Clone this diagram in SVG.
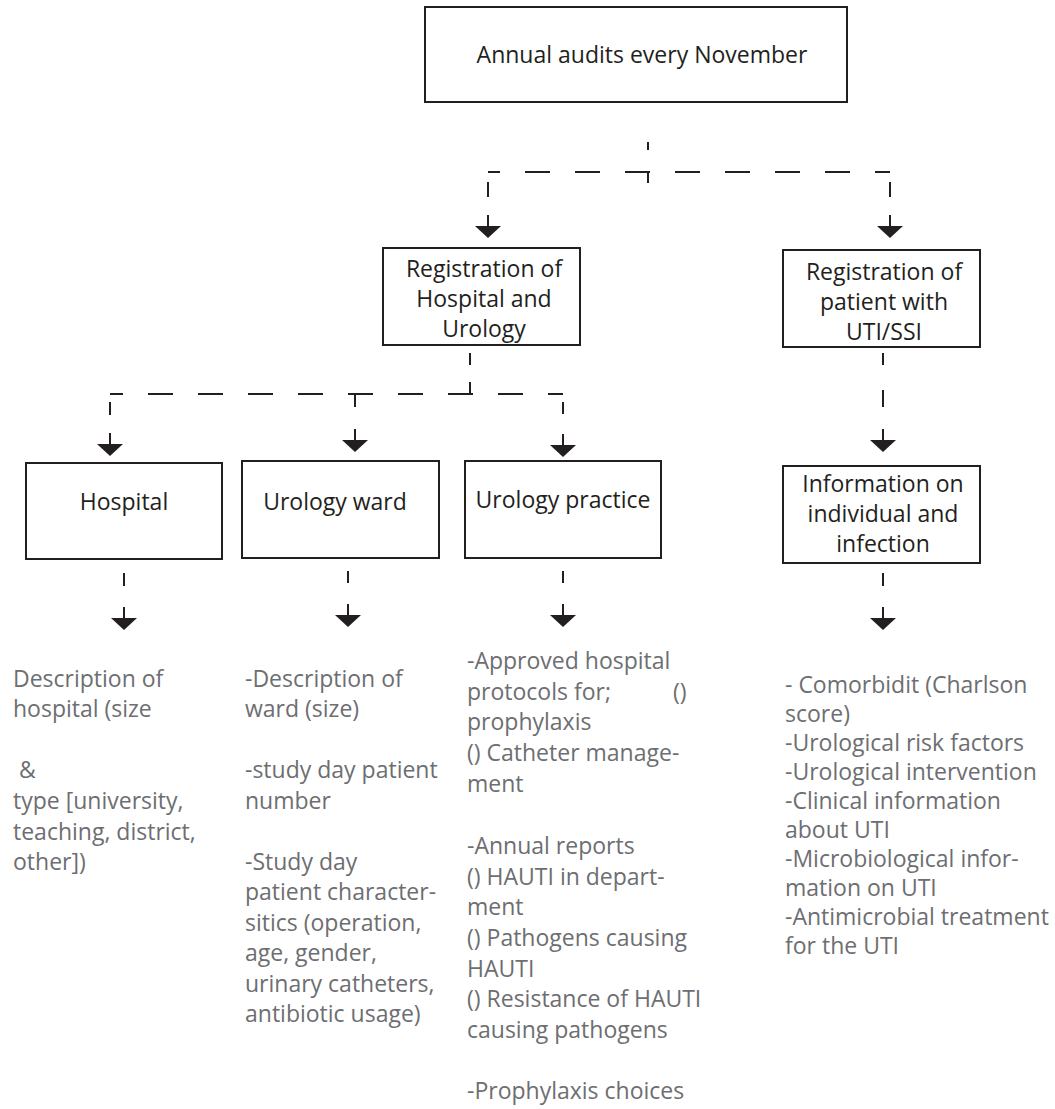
<svg xmlns="http://www.w3.org/2000/svg" xmlns:xlink="http://www.w3.org/1999/xlink" width="1055" height="1109" viewBox="0 0 1055 1109">
<style>
.box{fill:#fff;stroke:#231f20;stroke-width:2}
.lbl{font-family:"Open Sans","Liberation Sans",sans-serif;font-size:23px;fill:#231f20;text-anchor:middle}
.info{font-family:"Open Sans","Liberation Sans",sans-serif;font-size:23px;fill:#6d6e71}
.dash{stroke:#231f20;stroke-width:2;fill:none}
.hd{stroke:#231f20;stroke-width:2;fill:none;stroke-dasharray:25 25}
</style>
<defs>
<g id="arrow">
<line x1="0" y1="-23" x2="0" y2="-11" stroke="#231f20" stroke-width="2"/>
<polygon points="-13,-12 13,-12 0,0" fill="#231f20"/>
</g>
</defs>
<rect width="1055" height="1109" fill="#fff"/>
<g id="connectors">
<line class="dash" x1="648" y1="142" x2="648" y2="150"/>
<line class="dash" x1="648" y1="172" x2="648" y2="183"/>
<line class="hd" x1="488" y1="172" x2="890" y2="172" stroke-dashoffset="13"/>
<line class="dash" x1="488" y1="182" x2="488" y2="197"/>
<line class="dash" x1="890" y1="182" x2="890" y2="197"/>
<use xlink:href="#arrow" x="488" y="238"/>
<use xlink:href="#arrow" x="890" y="238"/>
<line class="dash" x1="470" y1="353" x2="470" y2="365"/>
<line class="dash" x1="470" y1="382" x2="470" y2="395"/>
<line class="hd" x1="110" y1="394" x2="563" y2="394" stroke-dashoffset="12"/>
<line class="dash" x1="110" y1="402" x2="110" y2="415"/>
<line class="dash" x1="355" y1="394" x2="355" y2="407"/>
<line class="dash" x1="563" y1="402" x2="563" y2="414"/>
<use xlink:href="#arrow" x="110" y="456"/>
<use xlink:href="#arrow" x="355" y="452"/>
<use xlink:href="#arrow" x="563" y="457"/>
<line class="dash" x1="883" y1="353" x2="883" y2="365"/>
<line class="dash" x1="883" y1="390" x2="883" y2="407"/>
<use xlink:href="#arrow" x="883" y="452"/>
<line class="dash" x1="124" y1="573" x2="124" y2="586"/>
<line class="dash" x1="348" y1="571" x2="348" y2="583"/>
<line class="dash" x1="563" y1="571" x2="563" y2="583"/>
<line class="dash" x1="883" y1="573" x2="883" y2="586"/>
<use xlink:href="#arrow" x="124" y="630"/>
<use xlink:href="#arrow" x="348" y="627"/>
<use xlink:href="#arrow" x="563" y="627"/>
<use xlink:href="#arrow" x="883" y="630"/>
</g>
<g id="annual">
<rect class="box" x="425" y="7" width="422" height="95"/>
<text class="lbl" x="642" y="63">Annual audits every November</text>
</g>
<g id="reg-hospital">
<rect class="box" x="383" y="248" width="197" height="97"/>
<text class="lbl" x="484" y="277">Registration of</text>
<text class="lbl" x="484" y="307">Hospital and</text>
<text class="lbl" x="484" y="337">Urology</text>
</g>
<g id="reg-patient">
<rect class="box" x="783" y="250" width="197" height="97"/>
<text class="lbl" x="884" y="280">Registration of</text>
<text class="lbl" x="884" y="310">patient with</text>
<text class="lbl" x="884" y="340">UTI/SSI</text>
</g>
<g id="hospital">
<rect class="box" x="26" y="463" width="196" height="96"/>
<text class="lbl" x="124" y="510">Hospital</text>
</g>
<g id="ward">
<rect class="box" x="242" y="461" width="197" height="97"/>
<text class="lbl" x="335" y="510">Urology ward</text>
</g>
<g id="practice">
<rect class="box" x="465" y="461" width="196" height="97"/>
<text class="lbl" x="563" y="508">Urology practice</text>
</g>
<g id="information">
<rect class="box" x="783" y="466" width="197" height="97"/>
<text class="lbl" x="883" y="492">Information on</text>
<text class="lbl" x="883" y="522">individual and</text>
<text class="lbl" x="883" y="552">infection</text>
</g>
<g id="hospital-text">
<text class="info" x="13" y="687">Description of</text>
<text class="info" x="13" y="717">hospital (size</text>
<text class="info" x="13" y="778" xml:space="preserve"> &amp;</text>
<text class="info" x="13" y="809">type [university,</text>
<text class="info" x="13" y="840">teaching, district,</text>
<text class="info" x="13" y="870">other])</text>
</g>
<g id="ward-text">
<text class="info" x="245" y="687">-Description of</text>
<text class="info" x="245" y="717">ward (size)</text>
<text class="info" x="245" y="778">-study day patient</text>
<text class="info" x="245" y="809">number</text>
<text class="info" x="245" y="870">-Study day</text>
<text class="info" x="245" y="900">patient character-</text>
<text class="info" x="245" y="931">sitics (operation,</text>
<text class="info" x="245" y="961">age, gender,</text>
<text class="info" x="245" y="992">urinary catheters,</text>
<text class="info" x="245" y="1022">antibiotic usage)</text>
</g>
<g id="practice-text">
<text class="info" x="467" y="669">-Approved hospital</text>
<text class="info" x="467" y="700">protocols for;<tspan x="673">()</tspan></text>
<text class="info" x="467" y="730">prophylaxis</text>
<text class="info" x="467" y="761">() Catheter manage-</text>
<text class="info" x="467" y="792">ment</text>
<text class="info" x="467" y="854">-Annual reports</text>
<text class="info" x="467" y="885">() HAUTI in depart-</text>
<text class="info" x="467" y="915">ment</text>
<text class="info" x="467" y="946">() Pathogens causing</text>
<text class="info" x="467" y="977">HAUTI</text>
<text class="info" x="467" y="1007">() Resistance of HAUTI</text>
<text class="info" x="467" y="1038">causing pathogens</text>
<text class="info" x="467" y="1099">-Prophylaxis choices</text>
</g>
<g id="info-text">
<text class="info" x="785" y="693">- Comorbidit (Charlson</text>
<text class="info" x="785" y="722">score)</text>
<text class="info" x="785" y="751">-Urological risk factors</text>
<text class="info" x="785" y="780">-Urological intervention</text>
<text class="info" x="785" y="809">-Clinical information</text>
<text class="info" x="785" y="838">about UTI</text>
<text class="info" x="785" y="867">-Microbiological infor-</text>
<text class="info" x="785" y="896">mation on UTI</text>
<text class="info" x="785" y="925">-Antimicrobial treatment</text>
<text class="info" x="785" y="954">for the UTI</text>
</g>
</svg>
